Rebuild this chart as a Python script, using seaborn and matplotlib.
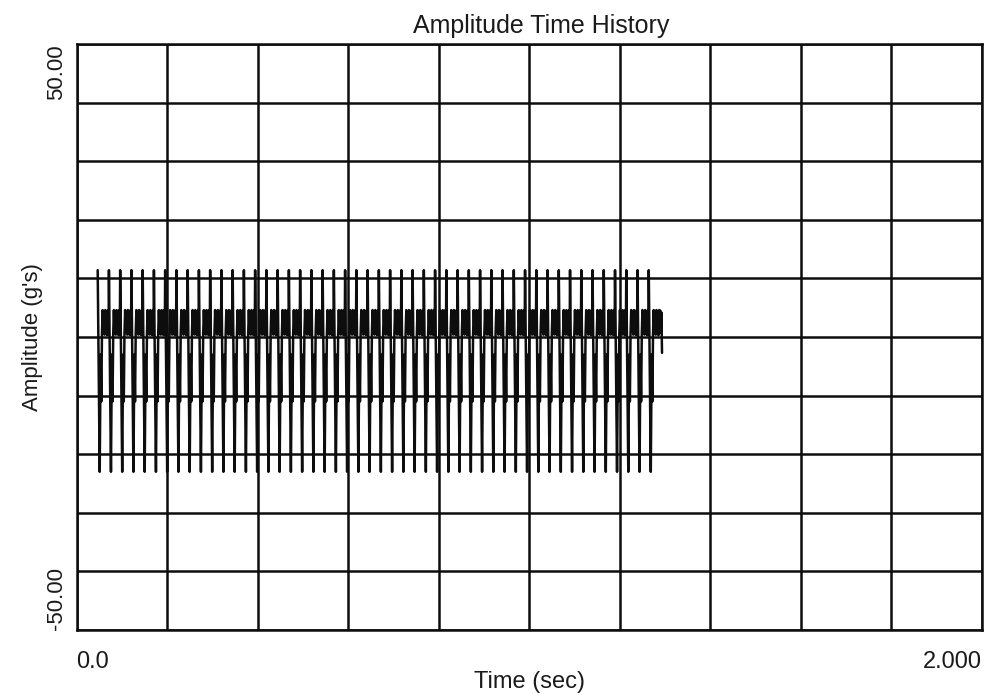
import numpy as np
import pandas as pd
import matplotlib
matplotlib.use("Agg")
import matplotlib.pyplot as plt
import seaborn as sns

# ---- data ----
title = "Amplitude Time History"
x_label = "Time (sec)"
y_label = "Amplitude (g's)"
x_tick_values = [0.0, 0.2, 0.4, 0.6, 0.8, 1.0, 1.2, 1.4, 1.6, 1.8, 2.0]
x_tick_labels = ["0.0", "", "", "", "", "", "", "", "", "", "2.000"]
y_tick_values = [-50, -40, -30, -20, -10, 0, 10, 20, 30, 40, 50]
y_tick_labels = ["-50.00", "", "", "", "", "", "", "", "", "", "50.00"]

first_peak_time = 0.0468   # s
cycle_period = 0.02484     # s (spacing of the repeating pulses)
n_cycles = 50              # number of pulses seen
# shape of one pulse cycle: phase (fraction of a period) and amplitude (g)
cycle_phase = [0.00, 0.18, 0.26, 0.32, 0.38, 0.44, 0.50, 0.56, 0.62,
               0.68, 0.74, 0.80, 0.86, 0.92, 0.97]
cycle_amplitude = [11.4, -23.0, -3.0, -11.0, 0.5, 4.6, 1.0, 4.2, 0.4,
                   4.6, 0.8, 4.4, 0.3, 4.6, 1.5]
# tail after the last pulse (phase after the last cycle start)
tail_phase = [1.02, 1.07, 1.12, 1.18]
tail_amplitude = [4.5, 0.8, 4.2, -2.7]

# ---- build the time history ----
times, values = [], []
for k in range(n_cycles):
    start = first_peak_time + k * cycle_period
    for ph, amp in zip(cycle_phase, cycle_amplitude):
        times.append(start + ph * cycle_period)
        values.append(amp)
last_start = first_peak_time + (n_cycles - 1) * cycle_period
for ph, amp in zip(tail_phase, tail_amplitude):
    times.append(last_start + ph * cycle_period)
    values.append(amp)
df = pd.DataFrame({"time": times, "amp": values})

# ---- styling ----
sns.set_theme(style="white")
plt.rcParams["font.family"] = ["Liberation Sans", "DejaVu Sans"]

fig = plt.figure(figsize=(9.85, 6.95), dpi=100)
ax = fig.add_axes([76.5 / 985, 65 / 695, 905.5 / 985, 586 / 695])

sns.lineplot(data=df, x="time", y="amp", ax=ax, color="#0d0d0d",
             linewidth=1.8, estimator=None, sort=False)

ax.set_xlim(0, 2.0)
ax.set_ylim(-50, 50)
ax.set_xticks(x_tick_values)
ax.set_xticklabels(x_tick_labels, fontsize=17, color="#1a1a1a")
ax.set_yticks(y_tick_values)
ax.set_yticklabels(y_tick_labels, fontsize=16, color="#1a1a1a", rotation=90)
ax.tick_params(axis="x", length=0, pad=15)
ax.tick_params(axis="y", length=0, pad=7)

xl = ax.get_xticklabels()
xl[0].set_ha("left")
xl[-1].set_ha("right")
yl = ax.get_yticklabels()
yl[0].set_va("bottom")
yl[-1].set_va("top")

ax.grid(True, color="#0d0d0d", linewidth=1.8)
for sp in ax.spines.values():
    sp.set_color("#0d0d0d")
    sp.set_linewidth(1.8)

ax.set_xlabel(x_label, fontsize=17, color="#1a1a1a", labelpad=-1)
ax.set_ylabel(y_label, fontsize=16, color="#1a1a1a", labelpad=2)
ax.set_title(title, fontsize=18, color="#1a1a1a", pad=8, x=0.5135)

fig.savefig("out.png", dpi=100)
